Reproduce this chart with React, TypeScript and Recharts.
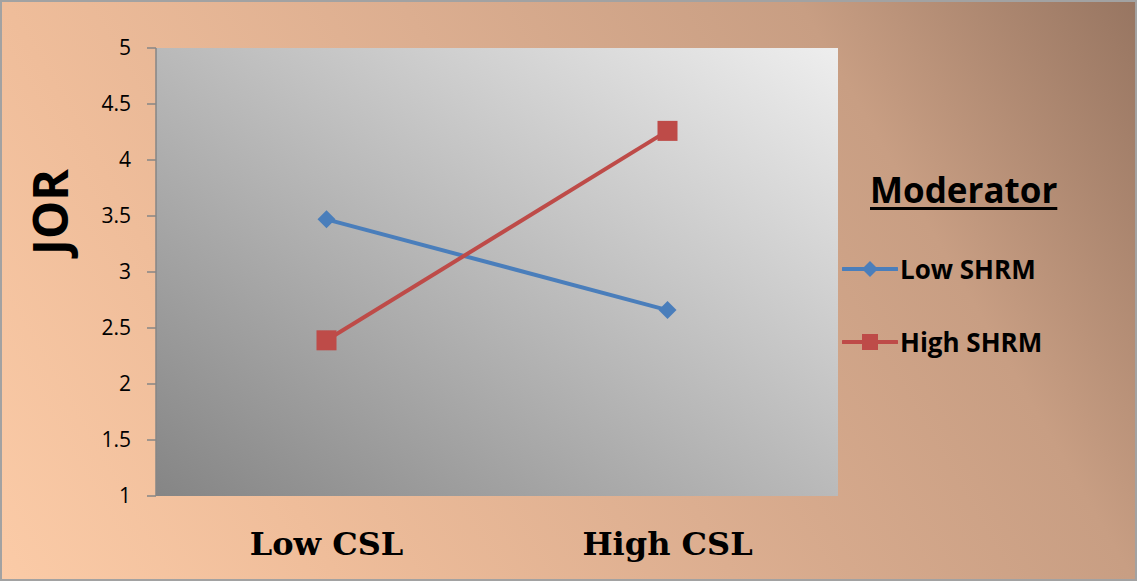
import { LineChart, Line, XAxis, YAxis, CartesianGrid, Legend } from 'recharts';

const categories = ['Low CSL', 'High CSL'];
const lowShrm = [3.47, 2.66];
const highShrm = [2.39, 4.26];
const yTicks = [1, 1.5, 2, 2.5, 3, 3.5, 4, 4.5, 5];
const boundaryTicks = [0, 1, 2];

const series = [
  { key: 'low', name: 'Low SHRM', color: '#4a7ebb', marker: 'diamond' },
  { key: 'high', name: 'High SHRM', color: '#be4b48', marker: 'square' },
];

const data = categories.map((csl, i) => ({ csl, low: lowShrm[i], high: highShrm[i] }));

const Diamond = ({ cx, cy, r, color }: any) => (
  <path d={`M${cx},${cy - r} L${cx + r},${cy} L${cx},${cy + r} L${cx - r},${cy} Z`} fill={color} />
);

const Square = ({ cx, cy, r, color }: any) => (
  <rect x={cx - r} y={cy - r} width={r * 2} height={r * 2} fill={color} />
);

const renderDot = (marker: string, color: string) => (props: any) => {
  const { cx, cy, index } = props;
  return marker === 'diamond'
    ? <Diamond key={index} cx={cx} cy={cy} r={9} color={color} />
    : <Square key={index} cx={cx} cy={cy} r={10} color={color} />;
};

const renderLegend = () => (
  <div style={{ fontFamily: '"Open Sans", sans-serif', fontWeight: 700, color: '#000' }}>
    <div
      style={{
        fontSize: 35,
        lineHeight: '35px',
        marginLeft: 28,
        textDecoration: 'underline',
        textDecorationThickness: 3,
        textUnderlineOffset: 4,
      }}
    >
      Moderator
    </div>
    {series.map((s, i) => (
      <div key={s.key} style={{ display: 'flex', alignItems: 'center', height: 26, marginTop: i === 0 ? 49 : 47 }}>
        <svg width={56} height={26}>
          <line x1={1} y1={13} x2={55} y2={13} stroke={s.color} strokeWidth={4} strokeLinecap="round" />
          {s.marker === 'diamond'
            ? <Diamond cx={28} cy={13} r={8} color={s.color} />
            : <Square cx={28} cy={13} r={8} color={s.color} />}
        </svg>
        <span style={{ fontSize: 26, lineHeight: '26px', marginLeft: 2 }}>{s.name}</span>
      </div>
    ))}
  </div>
);

const renderYLabel = (props: any) => {
  const { viewBox } = props;
  const cx = viewBox.x + viewBox.width - 107;
  const cy = viewBox.y + 164;
  return (
    <text
      x={cx}
      y={cy}
      transform={`rotate(-90, ${cx}, ${cy})`}
      textAnchor="middle"
      dominantBaseline="central"
      fontFamily='"Open Sans", sans-serif'
      fontWeight={700}
      fontSize={48}
      fill="#000"
    >
      JOR
    </text>
  );
};

function App() {
  return (
    <div
      style={{
        position: 'absolute',
        left: 0,
        top: 0,
        width: 1137,
        height: 581,
        background: 'linear-gradient(60deg, #fbcba7 0%, #efbd9a 23%, #dcae90 50%, #c89e83 77%, #977561 100%)',
        boxShadow: 'inset 0 0 0 2px #a2a2a2',
      }}
    >
      <LineChart width={1137} height={581} data={data} margin={{ top: 48, right: 299, bottom: 0, left: 0 }}>
        <defs>
          <linearGradient id="plotBg" x1="0" y1="1" x2="1" y2="0">
            <stop offset="0%" stopColor="#858585" />
            <stop offset="100%" stopColor="#eeeeee" />
          </linearGradient>
        </defs>
        <CartesianGrid xAxisId="cat" fill="url(#plotBg)" stroke="none" horizontal={false} vertical={false} />
        <XAxis
          xAxisId="bounds"
          type="number"
          domain={[0, 2]}
          ticks={boundaryTicks}
          tick={false}
          tickSize={10}
          height={0}
          stroke="#868686"
          strokeWidth={1.5}
        />
        <XAxis
          xAxisId="cat"
          dataKey="csl"
          scale="band"
          axisLine={false}
          tickLine={false}
          tickSize={0}
          tickMargin={36}
          height={85}
          tick={{ fontFamily: '"DejaVu Serif", serif', fontWeight: 700, fontSize: 32, fill: '#000' }}
        />
        <YAxis
          domain={[1, 5]}
          ticks={yTicks}
          width={156}
          tickSize={9}
          tickMargin={16}
          stroke="#868686"
          strokeWidth={1.5}
          tick={{ fontFamily: '"Open Sans", sans-serif', fontSize: 21, fill: '#000' }}
          label={{ content: renderYLabel }}
        />
        <Legend
          layout="horizontal"
          verticalAlign="middle"
          align="center"
          content={renderLegend}
          wrapperStyle={{ left: 842, top: 172, width: 280 }}
        />
        {series.map((s) => (
          <Line
            key={s.key}
            xAxisId="cat"
            dataKey={s.key}
            name={s.name}
            stroke={s.color}
            strokeWidth={4}
            dot={renderDot(s.marker, s.color)}
            activeDot={false}
            isAnimationActive={false}
          />
        ))}
      </LineChart>
    </div>
  );
}

export default App;
